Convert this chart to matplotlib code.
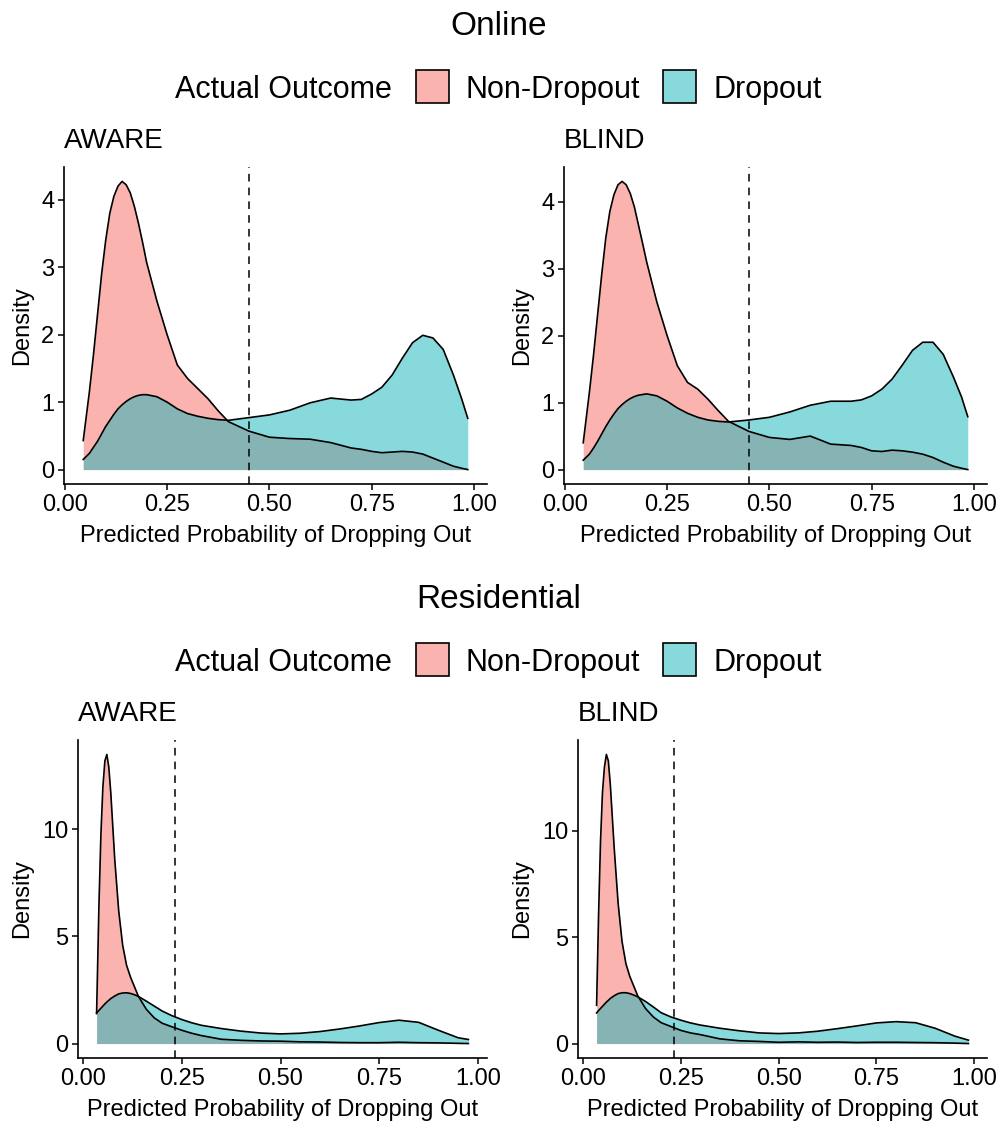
import matplotlib.pyplot as plt
from matplotlib.patches import Rectangle

plt.rcParams['font.family'] = ['Liberation Sans', 'DejaVu Sans']

# ---- data ----
# Online: shared x grid for both panels
online_x = [0.045, 0.06, 0.07, 0.08, 0.09, 0.10, 0.11, 0.12, 0.13, 0.14, 0.15, 0.16,
            0.17, 0.18, 0.19, 0.20, 0.225, 0.25, 0.275, 0.30, 0.325, 0.35, 0.375,
            0.40, 0.45, 0.50, 0.55, 0.60, 0.65, 0.70, 0.725, 0.75, 0.775, 0.80,
            0.825, 0.85, 0.875, 0.90, 0.925, 0.95, 0.97, 0.985]
online_aware_non = [0.43, 1.15, 1.7, 2.3, 2.9, 3.4, 3.8, 4.05, 4.2, 4.27, 4.22, 4.1,
                    3.9, 3.65, 3.37, 3.07, 2.5, 2.0, 1.55, 1.35, 1.2, 1.05, 0.87,
                    0.71, 0.57, 0.48, 0.46, 0.45, 0.40, 0.32, 0.30, 0.27, 0.25, 0.26,
                    0.27, 0.26, 0.23, 0.17, 0.11, 0.05, 0.02, 0.0]
online_aware_drop = [0.15, 0.24, 0.33, 0.42, 0.53, 0.64, 0.73, 0.82, 0.9, 0.96, 1.01, 1.05,
                     1.08, 1.10, 1.11, 1.11, 1.08, 1.0, 0.9, 0.83, 0.79, 0.76, 0.74,
                     0.73, 0.77, 0.81, 0.88, 0.99, 1.06, 1.03, 1.04, 1.12, 1.22, 1.40,
                     1.65, 1.88, 1.99, 1.95, 1.78, 1.40, 1.05, 0.76]
online_blind_non = [0.40, 1.15, 1.7, 2.3, 2.9, 3.45, 3.85, 4.1, 4.25, 4.3, 4.25, 4.12,
                    3.92, 3.65, 3.38, 3.1, 2.5, 2.0, 1.55, 1.3, 1.2, 1.05, 0.88,
                    0.72, 0.57, 0.48, 0.45, 0.50, 0.38, 0.36, 0.33, 0.28, 0.27, 0.29,
                    0.28, 0.26, 0.23, 0.18, 0.11, 0.05, 0.02, 0.0]
online_blind_drop = [0.14, 0.23, 0.32, 0.42, 0.53, 0.64, 0.74, 0.83, 0.91, 0.97, 1.02, 1.06,
                     1.09, 1.11, 1.12, 1.13, 1.1, 1.02, 0.92, 0.84, 0.78, 0.74, 0.72,
                     0.71, 0.74, 0.78, 0.86, 0.96, 1.02, 1.02, 1.04, 1.10, 1.2, 1.35,
                     1.56, 1.78, 1.90, 1.90, 1.72, 1.38, 1.08, 0.79]

# Residential
res_aware_x = [0.034, 0.04, 0.045, 0.05, 0.055, 0.06, 0.065, 0.07, 0.08, 0.09, 0.10,
               0.11, 0.12, 0.13, 0.14, 0.16, 0.18, 0.20, 0.225, 0.25, 0.275, 0.30,
               0.35, 0.40, 0.45, 0.50, 0.55, 0.60, 0.65, 0.70, 0.75, 0.80, 0.85,
               0.90, 0.95, 0.976]
res_aware_non = [1.4, 6.5, 9.8, 12.0, 13.2, 13.5, 12.9, 11.7, 8.6, 6.2, 4.6,
                 3.65, 3.1, 2.65, 2.2, 1.6, 1.2, 0.95, 0.78, 0.62, 0.48, 0.37,
                 0.2, 0.15, 0.12, 0.11, 0.08, 0.07, 0.05, 0.04, 0.04, 0.06, 0.04,
                 0.03, 0.01, 0.0]
res_aware_drop = [1.43, 1.55, 1.65, 1.75, 1.85, 1.94, 2.02, 2.1, 2.22, 2.32, 2.36,
                  2.37, 2.34, 2.28, 2.2, 1.98, 1.75, 1.52, 1.3, 1.12, 0.97, 0.85,
                  0.7, 0.58, 0.49, 0.45, 0.48, 0.56, 0.68, 0.82, 0.98, 1.09, 0.99,
                  0.62, 0.27, 0.19]
res_blind_x = [0.035, 0.04, 0.045, 0.05, 0.055, 0.06, 0.065, 0.07, 0.08, 0.09, 0.10,
               0.11, 0.12, 0.13, 0.14, 0.16, 0.18, 0.20, 0.225, 0.25, 0.275, 0.30,
               0.35, 0.40, 0.45, 0.50, 0.55, 0.60, 0.65, 0.70, 0.75, 0.80, 0.85,
               0.90, 0.95, 0.985]
res_blind_non = [1.8, 6.0, 9.5, 11.8, 13.0, 13.6, 13.3, 12.2, 9.2, 6.6, 4.8,
                 3.75, 3.15, 2.7, 2.25, 1.65, 1.25, 0.98, 0.8, 0.62, 0.5, 0.42,
                 0.22, 0.13, 0.1, 0.06, 0.08, 0.06, 0.07, 0.05, 0.06, 0.06, 0.05,
                 0.04, 0.02, 0.0]
res_blind_drop = [1.44, 1.55, 1.65, 1.75, 1.85, 1.95, 2.03, 2.12, 2.25, 2.35, 2.39,
                  2.39, 2.35, 2.28, 2.2, 1.98, 1.72, 1.45, 1.25, 1.1, 0.97, 0.87,
                  0.72, 0.6, 0.5, 0.47, 0.5, 0.58, 0.7, 0.83, 0.97, 1.03, 0.98,
                  0.72, 0.35, 0.16]

cutoffs = {'online_aware': 0.451, 'online_blind': 0.45,
           'res_aware': 0.233, 'res_blind': 0.234}

group_titles = ['Online', 'Residential']
panel_titles = ['AWARE', 'BLIND']
legend_title = 'Actual Outcome'
outcomes = ['Non-Dropout', 'Dropout']
fill_colors = ['#F8766D', '#12B5B9']
fill_alpha = [0.55, 0.5]
xlab = 'Predicted Probability of Dropping Out'

W, H = 1003, 1122
fig = plt.figure(figsize=(W / 100, H / 100), dpi=100)


def add_ax(left, top, right, bottom):
    return fig.add_axes([left / W, 1 - bottom / H, (right - left) / W, (bottom - top) / H])


def density_panel(ax, x, non, drop, cut, yticks):
    for k, y in enumerate([non, drop]):
        ax.fill_between(x, 0, y, color=fill_colors[k], alpha=fill_alpha[k], lw=0)
        ax.plot(x, y, color='black', lw=1.2, solid_joinstyle='round')
    ax.axvline(cut, color='black', lw=1.1, linestyle=(0, (5, 4)))
    rng = max(x) - min(x)
    ax.set_xlim(min(x) - 0.05 * rng, max(x) + 0.05 * rng)
    top = max(max(non), max(drop))
    ax.set_ylim(-0.05 * top, 1.05 * top)
    ax.set_xticks([0, 0.25, 0.5, 0.75, 1.0])
    ax.set_xticklabels(['0.00', '0.25', '0.50', '0.75', '1.00'])
    ax.set_yticks(yticks)
    for s in ['top', 'right']:
        ax.spines[s].set_visible(False)
    for s in ['left', 'bottom']:
        ax.spines[s].set_linewidth(1.2)
    ax.tick_params(length=4, width=1.1, labelsize=17, pad=3, colors='black')


panels = [
    ((64, 167, 487, 484), online_x, online_aware_non, online_aware_drop, cutoffs['online_aware'], [0, 1, 2, 3, 4]),
    ((564, 167, 987, 484), online_x, online_blind_non, online_blind_drop, cutoffs['online_blind'], [0, 1, 2, 3, 4]),
    ((78, 740, 487, 1058), res_aware_x, res_aware_non, res_aware_drop, cutoffs['res_aware'], [0, 5, 10]),
    ((578, 740, 987, 1058), res_blind_x, res_blind_non, res_blind_drop, cutoffs['res_blind'], [0, 5, 10]),
]

for i, (box, x, non, drop, cut, yt) in enumerate(panels):
    ax = add_ax(*box)
    density_panel(ax, x, non, drop, cut, yt)
    left, top, right, bottom = box
    fig.text(left / W, 1 - (top - 19) / H, panel_titles[i % 2], fontsize=20,
             ha='left', va='baseline')
    fig.text((left + right) / 2 / W, 1 - (bottom + 58) / H, xlab, fontsize=17,
             ha='center', va='baseline')
    fig.text((left - 42 if i < 2 else left - 56) / W, 1 - (top + bottom) / 2 / H,
             'Density', fontsize=17, rotation=90, ha='center', va='center')

# group titles and legends
for g, off in enumerate([0, 573]):
    fig.text(499 / W, 1 - (35 + off) / H, group_titles[g], fontsize=24,
             ha='center', va='baseline')
    fig.text(175 / W, 1 - (98 + off) / H, legend_title, fontsize=22,
             ha='left', va='baseline')
    for k, (bx, tx) in enumerate([(416, 466), (663, 714)]):
        fig.add_artist(Rectangle((bx / W, 1 - (103 + off) / H), 33 / W, 33 / H,
                                 transform=fig.transFigure, facecolor=fill_colors[k],
                                 alpha=fill_alpha[k], edgecolor='none'))
        fig.add_artist(Rectangle((bx / W, 1 - (103 + off) / H), 33 / W, 33 / H,
                                 transform=fig.transFigure, facecolor='none',
                                 edgecolor='black', lw=1.2))
        fig.text(tx / W, 1 - (98 + off) / H, outcomes[k], fontsize=22,
                 ha='left', va='baseline')

fig.savefig('out.png', dpi=100)
